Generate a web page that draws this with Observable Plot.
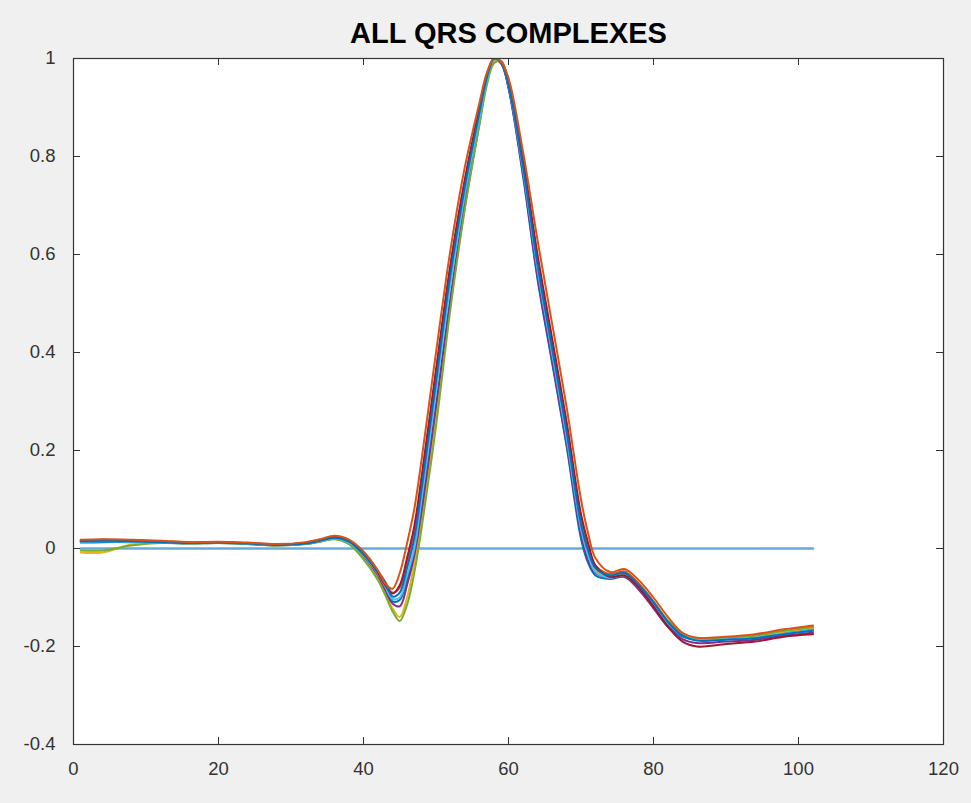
<!DOCTYPE html>
<html><head><meta charset="utf-8">
<script src="https://cdn.jsdelivr.net/npm/d3@7"></script>
<script src="https://cdn.jsdelivr.net/npm/@observablehq/plot@0.6"></script>
<style>
html,body{margin:0;padding:0;background:#f0f0f0;}
#chart svg{display:block;}
</style></head><body><div id="chart"></div>
<script>
const chartTitle = "ALL QRS COMPLEXES";
const sampleIdx = [1,4,8,12,16,20,24,28,32,34,36,38,40,42,43,44,45,46,47,48,50,52,54,56,57,58,59,60,62,64,66,68,70,71,72,74,76,78,80,82,84,86,90,94,98,102];
const qrs01 = [0.012,0.013,0.013,0.012,0.010,0.011,0.009,0.006,0.009,0.014,
 0.020,0.011,-0.016,-0.055,-0.080,-0.108,-0.105,-0.065,-0.010,0.080,
 0.290,0.510,0.700,0.870,0.950,0.995,0.990,0.940,0.760,0.550,
 0.380,0.210,0.020,-0.030,-0.055,-0.062,-0.058,-0.082,-0.118,-0.155,
 -0.180,-0.186,-0.184,-0.180,-0.172,-0.166];
const qrs02 = [0.016,0.017,0.016,0.014,0.012,0.013,0.011,0.008,0.011,0.017,
 0.023,0.015,-0.010,-0.046,-0.068,-0.090,-0.080,-0.030,0.035,0.135,
 0.355,0.575,0.750,0.895,0.965,1.000,0.990,0.950,0.790,0.590,
 0.420,0.250,0.060,0.005,-0.035,-0.052,-0.047,-0.072,-0.108,-0.148,
 -0.176,-0.186,-0.184,-0.180,-0.170,-0.162];
const qrs03 = [-0.008,-0.008,0.008,0.012,0.011,0.012,0.010,0.007,0.010,0.015,
 0.020,0.010,-0.020,-0.060,-0.090,-0.122,-0.140,-0.100,-0.030,0.060,
 0.270,0.500,0.700,0.870,0.950,0.995,0.990,0.945,0.775,0.575,
 0.400,0.235,0.045,-0.010,-0.045,-0.058,-0.052,-0.078,-0.112,-0.150,
 -0.176,-0.186,-0.184,-0.180,-0.170,-0.162];
const qrs04 = [0.016,0.017,0.016,0.014,0.012,0.013,0.011,0.008,0.011,0.017,
 0.023,0.013,-0.015,-0.055,-0.085,-0.112,-0.118,-0.075,-0.015,0.075,
 0.290,0.510,0.710,0.875,0.955,1.000,0.990,0.940,0.765,0.555,
 0.385,0.215,0.030,-0.025,-0.050,-0.060,-0.057,-0.085,-0.122,-0.160,
 -0.185,-0.193,-0.190,-0.186,-0.178,-0.172];
const qrs05 = [-0.004,-0.004,0.006,0.011,0.010,0.011,0.009,0.006,0.009,0.014,
 0.019,0.009,-0.022,-0.065,-0.095,-0.128,-0.148,-0.115,-0.050,0.040,
 0.250,0.490,0.695,0.865,0.945,0.990,0.995,0.950,0.780,0.580,
 0.405,0.240,0.050,-0.005,-0.040,-0.055,-0.050,-0.075,-0.110,-0.148,
 -0.175,-0.185,-0.183,-0.178,-0.168,-0.160];
const qrs06 = [0.014,0.015,0.014,0.013,0.011,0.012,0.010,0.007,0.010,0.015,
 0.021,0.012,-0.014,-0.052,-0.078,-0.103,-0.100,-0.055,0.000,0.100,
 0.320,0.540,0.725,0.880,0.955,0.998,0.992,0.945,0.775,0.570,
 0.400,0.228,0.040,-0.015,-0.048,-0.060,-0.055,-0.080,-0.115,-0.152,
 -0.178,-0.187,-0.185,-0.182,-0.174,-0.167];
const qrs07 = [0.017,0.018,0.017,0.015,0.012,0.013,0.011,0.008,0.012,0.018,
 0.024,0.016,-0.010,-0.050,-0.075,-0.092,-0.075,-0.020,0.045,0.145,
 0.365,0.580,0.755,0.900,0.965,1.000,0.993,0.955,0.795,0.600,
 0.430,0.260,0.070,0.010,-0.035,-0.058,-0.055,-0.080,-0.118,-0.160,
 -0.190,-0.200,-0.195,-0.190,-0.180,-0.175];
const qrs08 = [0.015,0.016,0.015,0.013,0.011,0.012,0.010,0.007,0.010,0.016,
 0.022,0.014,-0.012,-0.048,-0.070,-0.098,-0.090,-0.040,0.020,0.120,
 0.340,0.560,0.740,0.890,0.960,1.000,0.990,0.945,0.780,0.580,
 0.410,0.240,0.050,-0.005,-0.040,-0.055,-0.050,-0.075,-0.110,-0.150,
 -0.178,-0.188,-0.186,-0.183,-0.175,-0.168];
const qrs09 = [0.018,0.019,0.018,0.016,0.013,0.014,0.012,0.009,0.013,0.019,
 0.026,0.018,-0.006,-0.045,-0.072,-0.082,-0.050,0.010,0.080,0.180,
 0.400,0.610,0.780,0.910,0.970,1.000,0.993,0.960,0.810,0.630,
 0.460,0.290,0.100,0.030,-0.020,-0.048,-0.042,-0.065,-0.100,-0.140,
 -0.172,-0.182,-0.180,-0.175,-0.165,-0.157];
const seriesColors = ["#0072BD","#D95319","#EDB120","#7E2F8E","#77AC30","#4DBEEE","#A2142F","#0072BD","#D95319"];
const xTicks = [0,20,40,60,80,100,120];
const yTicks = [-0.4,-0.2,0,0.2,0.4,0.6,0.8,1];
const refLineX = [1,102];
const refLineY = [0,0];

const allSeries = [qrs01,qrs02,qrs03,qrs04,qrs05,qrs06,qrs07,qrs08,qrs09];
const seriesRows = allSeries.map((vals) => vals.map((v,i) => ({x: sampleIdx[i], y: v})));
const refRows = refLineX.map((x,i) => ({x, y: refLineY[i]}));

const W = 971, H = 803, mt = 58, mb = 59, ml = 73, mr = 28;
const innerW = W - ml - mr, innerH = H - mt - mb;
const tickLen = 7;
const font = "'Liberation Sans', Arial, Helvetica, sans-serif";
const ink = "#333333";

const plot = Plot.plot({
  width: W, height: H,
  marginTop: mt, marginBottom: mb, marginLeft: ml, marginRight: mr,
  style: {background: "#f0f0f0", fontFamily: font, fontSize: "18px", color: ink},
  x: {domain: [0,120], ticks: xTicks, label: null},
  y: {domain: [-0.4,1], ticks: yTicks, label: null},
  marks: [
    Plot.frame({fill: "white"}),
    Plot.line(refRows, {x: "x", y: "y", stroke: "#0072BD", strokeOpacity: 0.6, strokeWidth: 2.6}),
    ...seriesRows.map((rows, s) => Plot.line(rows, {x: "x", y: "y", stroke: seriesColors[s], strokeWidth: 2, curve: "catmull-rom", clip: true})),
    Plot.tickX(xTicks, {x: d => d, insetTop: innerH - tickLen, stroke: ink}),
    Plot.tickX(xTicks, {x: d => d, insetBottom: innerH - tickLen, stroke: ink}),
    Plot.tickY(yTicks, {y: d => d, insetRight: innerW - tickLen, stroke: ink}),
    Plot.tickY(yTicks, {y: d => d, insetLeft: innerW - tickLen, stroke: ink}),
    Plot.axisX(xTicks, {tickSize: 0, tickPadding: 17, tickFormat: d => String(d), fontSize: 18.5, fill: ink, label: null}),
    Plot.axisY(yTicks, {tickSize: 0, tickPadding: 18, tickFormat: d => String(d), fontSize: 18.5, fill: ink, label: null}),
    Plot.frame({stroke: ink, strokeWidth: 1.2}),
    Plot.text([chartTitle], {text: d => d, frameAnchor: "top", dy: -25, lineAnchor: "middle", fontSize: 29, fontWeight: "bold", fill: "#000"})
  ]
});
document.getElementById("chart").appendChild(plot);
</script></body></html>
